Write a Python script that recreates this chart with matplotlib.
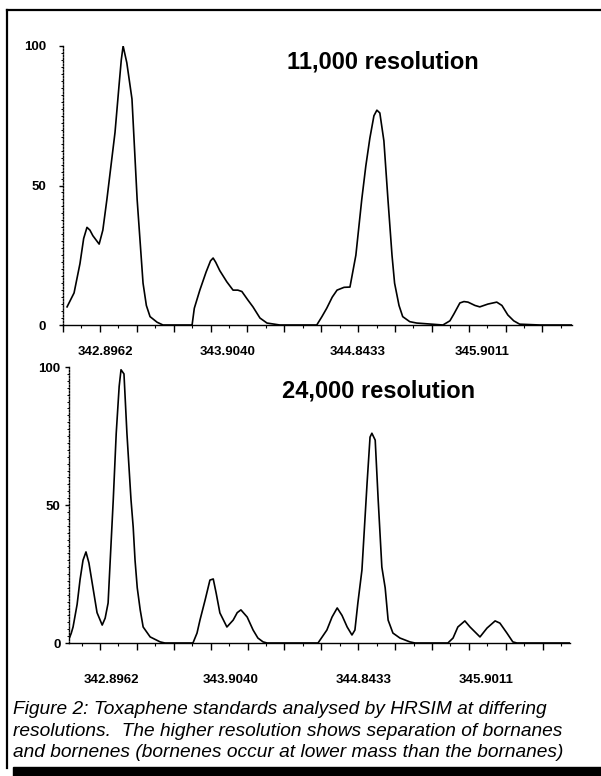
import matplotlib
matplotlib.use("Agg")
import matplotlib.pyplot as plt
from matplotlib.lines import Line2D
from matplotlib.patches import Rectangle
from matplotlib.ticker import MultipleLocator

plt.rcParams['font.family'] = ['Liberation Sans', 'DejaVu Sans']

# 11,000 resolution trace: scan number vs relative intensity (%)
scan_11k = [1.1, 3.0, 4.6, 5.6, 6.5, 7.3, 8.1, 9.8, 10.8, 11.9, 13.0, 14.1, 15.2, 15.8, 16.3,
            16.8, 17.3, 18.7, 20.1, 21.7, 22.6, 23.6, 25.5, 27.1, 30.4, 34.7,
            35.0, 35.6, 37.1, 38.8, 40.0, 40.7, 41.4, 42.5, 44.4, 46.1, 47.4, 48.5, 50.1, 51.5,
            53.4, 55.3, 58.8,
            64.2, 68.8, 70.2, 71.5, 73.0, 74.3, 76.2, 77.8, 79.4, 81.0, 82.1, 83.2, 84.3, 85.1,
            85.9, 87.0, 88.1, 89.2, 89.9, 91.1, 92.1, 94.0, 95.9, 103.0,
            104.9, 106.0, 107.6, 108.7, 109.8, 111.7, 113.0, 115.2, 117.6, 119.0, 120.6, 122.2,
            123.8, 129.3, 137.9]
int_11k = [6.5, 11.5, 22, 31, 35, 34, 32, 29, 34, 45, 57, 69, 86, 95, 100,
           97, 94, 81, 45, 15, 7, 3, 1, 0, 0, 0,
           0, 6, 12.5, 19, 23, 24, 22.5, 19.5, 15.5, 12.5, 12.5, 12, 9, 6.5,
           2.5, 0.7, 0,
           0, 0, 3, 6, 10, 12.5, 13.5, 13.6, 25, 45, 57, 67, 75, 77,
           76, 66, 45, 25, 15, 7, 3, 1.2, 0.7, 0,
           1.5, 4, 7.9, 8.4, 8.2, 7, 6.5, 7.5, 8.2, 7, 3.6, 1.5,
           0.3, 0, 0]

# 24,000 resolution trace
scan_24k = [1.7, 2.2, 2.7, 3.8, 4.6, 5.4, 6.2, 7.0, 8.1, 9.2, 10.6, 11.4, 12.2, 12.7, 13.6,
            14.4, 15.2, 15.7, 16.5, 17.3, 18.4, 19.0, 19.5, 20.1, 20.9, 21.7, 23.6, 26.3, 27.6,
            35.2, 36.3, 37.1, 38.5, 39.8, 40.7, 41.5, 42.5, 44.4, 46.1, 47.2, 48.2, 49.9, 51.5,
            52.8, 54.2, 55.3,
            69.1, 71.5, 72.9, 74.3, 75.6, 77.0, 78.3, 79.1, 79.9, 81.0, 82.4, 83.2, 83.7, 84.6,
            85.4, 86.4, 87.3, 88.1, 89.4, 91.3, 94.0, 95.4,
            104.3, 105.7, 107.0, 108.9, 110.3, 113.0, 114.9, 117.1, 118.4, 120.3, 121.9, 123.0,
            137.4]
int_24k = [1.8, 3.5, 5.8, 14, 23, 30, 33, 29, 20, 11, 6.5, 9, 14.5, 28, 52,
           76, 93, 99, 97.5, 76, 52, 42, 30, 20, 12, 5.8, 2.2, 0.4, 0,
           0, 3.6, 8.3, 15.6, 22.8, 23.2, 18, 10.9, 5.8, 8.3, 11, 12, 9.4, 4.7,
           1.8, 0.4, 0,
           0, 4.7, 9.4, 12.7, 10, 5.8, 2.9, 4.7, 14.5, 26.4, 58, 74.6, 76, 73.5,
           52, 27.5, 20, 8.3, 3.6, 1.8, 0.4, 0,
           0, 1.8, 5.8, 8, 5.8, 2.2, 5.4, 8, 7.2, 3.6, 0.4, 0,
           0]

masses = ["342.8962", "343.9040", "344.8433", "345.9011"]
mass_pos_11k = [11.4, 44.7, 79.9, 113.6]
mass_pos_24k = [13.0, 45.3, 81.6, 114.6]

W, H = 601, 776
fig = plt.figure(figsize=(W / 100, H / 100), dpi=100)


def setup(ax, xlim, ypad):
    ax.set_xlim(*xlim)
    ax.set_ylim(0, 100)
    ax.spines['top'].set_visible(False)
    ax.spines['right'].set_visible(False)
    ax.spines['left'].set_linestyle((0, (1, 1.2)))
    ax.spines['left'].set_linewidth(1.0)
    ax.spines['bottom'].set_linewidth(1.0)
    ax.set_yticks([0, 50, 100])
    ax.yaxis.set_minor_locator(MultipleLocator(2.5))
    ax.xaxis.set_major_locator(MultipleLocator(10))
    ax.xaxis.set_minor_locator(MultipleLocator(5))
    ax.set_xticklabels([])
    ax.tick_params(axis='x', which='major', direction='out', length=5, width=1)
    ax.tick_params(axis='x', which='minor', direction='out', length=2, width=0.8)
    ax.tick_params(axis='y', which='major', direction='out', length=3, width=1,
                   pad=ypad, labelsize=9.5)
    ax.tick_params(axis='y', which='minor', direction='out', length=1.5, width=0.7)
    for lab in ax.get_yticklabels():
        lab.set_fontweight('bold')


# top panel: 11,000 resolution
ax1 = fig.add_axes([63 / W, 1 - 325 / H, 509 / W, 279 / H])
setup(ax1, (0, 138), 9)
ax1.plot(scan_11k, int_11k, color='black', lw=1.2, solid_joinstyle='round')
ax1.text(287 / W, 1 - 69 / H, "11,000 resolution", transform=fig.transFigure,
         fontsize=17, fontweight='bold', ha='left', va='baseline')
for m, p in zip(masses, mass_pos_11k):
    ax1.text(p, -9.5, m, fontsize=9.5, fontweight='bold', ha='center', va='center')

# bottom panel: 24,000 resolution
ax2 = fig.add_axes([69 / W, 1 - 643 / H, 501 / W, 276 / H])
setup(ax2, (1.6, 137.4), 3)
ax2.plot(scan_24k, int_24k, color='black', lw=1.2, solid_joinstyle='round')
ax2.text(282 / W, 1 - 398 / H, "24,000 resolution", transform=fig.transFigure,
         fontsize=17, fontweight='bold', ha='left', va='baseline')
for m, p in zip(masses, mass_pos_24k):
    ax2.text(p, -13.5, m, fontsize=9.5, fontweight='bold', ha='center', va='center')

# caption
caption = ["Figure 2: Toxaphene standards analysed by HRSIM at differing",
           "resolutions.  The higher resolution shows separation of bornanes",
           "and bornenes (bornenes occur at lower mass than the bornanes)"]
for line, yb in zip(caption, [714, 736, 757]):
    fig.text(13 / W, 1 - yb / H, line, fontsize=13.8, style='italic',
             ha='left', va='baseline')

# frame around the figure
fig.add_artist(Line2D([7 / W, 7 / W], [1 - 10 / H, 1 - 768 / H], color='black', lw=1.6))
fig.add_artist(Line2D([7 / W, 1.0], [1 - 10 / H, 1 - 10 / H], color='black', lw=1.6))
fig.add_artist(Rectangle((13 / W, 0), 1 - 13 / W, 9 / H, transform=fig.transFigure,
                         color='black'))

fig.savefig("out.png", dpi=100)
